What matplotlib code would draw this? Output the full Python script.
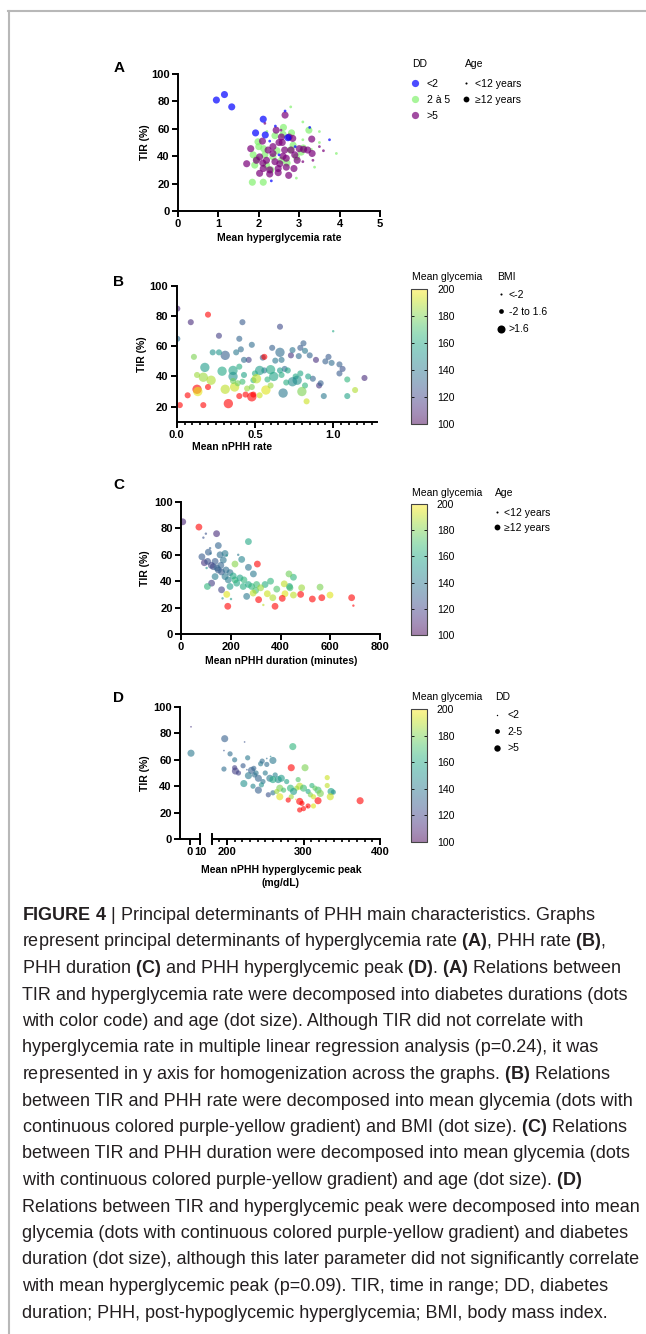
import numpy as np
import matplotlib
matplotlib.use('Agg')
import matplotlib.pyplot as plt
from matplotlib import cm
from matplotlib.colors import ListedColormap, Normalize
from matplotlib.lines import Line2D
from matplotlib.ticker import MultipleLocator

plt.rcParams['font.family'] = ['Liberation Sans', 'DejaVu Sans']

# ---------------- data ----------------
# A: mean hyperglycemia rate vs TIR; DD: 0 <2, 1 2-5, 2 >5 ; age: 0 <12 y, 1 >=12 y
a_rate = [1.84, 2.11, 2.61, 3.24, 2.81, 1.86, 1.98, 2.12, 2.35, 2.56,
          1.9, 2.19, 2.93, 3.05, 2.78, 2.45, 2.0, 2.6, 2.3, 2.7,
          1.95, 2.85, 2.4, 3.1, 2.15,
          2.79, 3.09, 3.5, 3.5, 3.38, 3.92, 2.93, 3.09, 3.3, 2.2,
          2.65, 2.43, 1.8, 1.7, 2.09, 2.58, 2.84, 2.8, 3.31, 3.11,
          3.21, 3.32, 2.02, 2.19, 2.35, 2.52, 2.68, 2.89, 2.11, 2.27,
          2.48, 2.68, 2.87, 2.02, 2.27, 2.48, 2.74, 2.64, 2.23, 1.94,
          2.56, 2.75, 2.4, 2.1, 2.6, 2.95, 2.5, 3.0, 2.35,
          2.55, 3.5, 3.34, 3.09, 2.15, 3.6,
          0.95, 1.15, 1.33, 2.11, 1.92, 2.16, 2.72,
          2.65, 2.41, 3.26, 3.75, 2.31, 2.27, 2.9, 2.5]
a_tir = [21, 21, 61, 59, 57, 41, 50.5, 45.5, 39.5, 37,
         33.5, 33.5, 39.5, 43, 44.5, 44, 47, 56, 30, 35,
         38, 48, 55, 46, 41,
         76, 65, 58, 50, 32, 42, 24, 52, 45, 58,
         70, 59, 45.5, 34.5, 51, 50, 53, 44.5, 52.5, 45,
         44.5, 42, 39.5, 37, 42, 34.5, 38.5, 41, 31, 30,
         31, 32, 31, 27.5, 27, 28, 26, 44.5, 44.5, 37,
         54, 54, 36, 35, 40, 37, 50, 45.5, 47,
         59, 47, 37, 36, 64, 44,
         81, 85, 76, 67, 57, 55.5, 53.5,
         73, 62, 61, 52, 22, 51, 47, 41]
a_dd = [1, 1, 1, 1, 1, 1, 1, 1, 1, 1, 1, 1, 1, 1, 1, 1, 1, 1, 1, 1, 1, 1, 1, 1, 1,
        1, 1, 1, 1, 1, 1, 1, 1, 1, 1,
        2, 2, 2, 2, 2, 2, 2, 2, 2, 2, 2, 2, 2, 2, 2, 2, 2, 2, 2, 2,
        2, 2, 2, 2, 2, 2, 2, 2, 2, 2, 2, 2, 2, 2, 2, 2, 2, 2, 2,
        2, 2, 2, 2, 2, 2,
        0, 0, 0, 0, 0, 0, 0,
        0, 0, 0, 0, 0, 0, 0, 0]
a_age = [1, 1, 1, 1, 1, 1, 1, 1, 1, 1, 1, 1, 1, 1, 1, 1, 1, 1, 1, 1, 1, 1, 1, 1, 1,
         0, 0, 0, 0, 0, 0, 0, 0, 0, 0,
         1, 1, 1, 1, 1, 1, 1, 1, 1, 1, 1, 1, 1, 1, 1, 1, 1, 1, 1, 1,
         1, 1, 1, 1, 1, 1, 1, 1, 1, 1, 1, 1, 1, 1, 1, 1, 1, 1, 1,
         0, 0, 0, 0, 0, 0,
         1, 1, 1, 1, 1, 1, 1,
         0, 0, 0, 0, 0, 0, 0, 0]
dd_labels = ['<2', '2 à 5', '>5']
age_labels = ['<12 years', '\u226512 years']

# B: mean nPHH rate vs TIR; glycemia (mg/dL, >200 out of range); BMI: 0 <-2, 1 -2 to 1.6, 2 >1.6
b_rate = [0.004, 0.09, 0.27, 0.73, 0.89, 0.91, 1.2, 0.46,
          0.42, 0.66, 0.004, 0.31, 0.40, 0.48, 0.61, 0.66, 0.79, 0.81,
          0.78, 0.85, 0.95, 0.97, 1.04, 1.06, 1.04, 0.92, 0.87, 0.94,
          0.68, 0.43, 0.55, 0.63, 0.67, 0.69, 0.74, 0.56, 0.41, 0.82, 0.38, 0.99,
          0.18, 0.23, 0.27, 0.29, 0.36, 0.36, 0.40, 0.43, 0.49, 0.53,
          0.60, 0.66, 0.71, 0.76, 0.77, 0.74, 0.62, 0.67, 0.84, 0.79,
          1.09, 1.09, 0.82, 0.42, 0.58, 0.70, 0.50,
          0.11, 0.13, 0.17, 0.22, 0.31, 0.37, 0.39, 0.45, 0.51, 0.57,
          0.53, 0.80, 0.83, 1.14, 0.48, 0.60, 0.36,
          0.20, 0.02, 0.07, 0.13, 0.20, 0.17, 0.33, 0.40, 0.44, 0.48,
          0.49, 0.56, 0.135,
          1.0]
b_tir = [85, 76, 67, 54, 51, 34, 39, 51,
         76, 73, 65, 54, 65, 61, 59, 56, 59, 62,
         53.5, 54, 50, 53, 48, 45, 42, 35.5, 38.5, 27,
         29, 51, 52.5, 50.5, 51, 45, 57.5, 44, 58, 57, 56, 49,
         46, 56, 56, 43.5, 44, 40, 46.5, 41, 37.5, 44,
         44.5, 44, 44, 40, 37.5, 36.5, 40, 41, 40, 42,
         38, 27, 34, 36.5, 38, 36, 42,
         53, 41, 39.5, 37.5, 31.5, 33, 35.5, 32, 38.5, 31,
         27.5, 30, 23.5, 31, 33, 34, 37,
         81, 21, 27.5, 31.5, 33, 21, 22, 27, 28, 26.5,
         28, 53, 30,
         70]
b_glyc = [110, 112, 118, 115, 113, 115, 112, 118,
          128, 122, 135, 130, 132, 135, 130, 135, 128, 130,
          135, 132, 130, 128, 130, 125, 128, 130, 132, 140,
          140, 135, 130, 140, 138, 135, 138, 140, 135, 140, 140, 135,
          155, 150, 152, 160, 158, 150, 162, 158, 165, 155,
          160, 155, 158, 160, 150, 148, 158, 162, 158, 160,
          165, 158, 165, 168, 165, 162, 162,
          180, 185, 185, 188, 190, 192, 178, 185, 190, 195,
          192, 180, 192, 188, 180, 185, 178,
          210, 210, 210, 210, 210, 210, 210, 210, 210, 210,
          210, 210, 196,
          160]
b_bmi = [1, 1, 1, 1, 1, 1, 1, 1,
         1, 1, 1, 2, 1, 1, 1, 2, 1, 1,
         1, 1, 1, 1, 1, 1, 1, 1, 1, 1,
         2, 1, 1, 1, 1, 1, 1, 1, 1, 1, 1, 1,
         2, 1, 1, 2, 2, 2, 1, 1, 1, 2,
         2, 1, 1, 1, 2, 2, 2, 1, 1, 1,
         1, 1, 1, 1, 1, 1, 1,
         1, 1, 2, 2, 2, 2, 1, 1, 2, 2,
         1, 2, 1, 1, 1, 1, 1,
         1, 1, 1, 2, 1, 1, 2, 1, 1, 2,
         1, 1, 2,
         0]
bmi_labels = ['<-2', '-2 to 1.6', '>1.6']

# C: mean nPHH duration (min) vs TIR; glycemia; age
c_dur = [7, 143, 94, 123, 163,
         84, 150, 110, 130, 137, 157, 177, 170, 150, 163,
         181, 197, 177, 137, 291, 271, 264, 244, 107, 122,
         145, 160, 190,
         100, 90, 117, 119, 103, 167, 201, 331, 693, 184, 230,
         271, 106, 197, 224, 217, 237, 253, 271, 284, 304,
         338, 360, 385, 436, 452, 438, 434, 210, 250, 300,
         184, 217, 347, 369, 415, 418, 452, 485, 559, 599, 320, 290,
         72, 307, 312, 188, 378, 407, 481, 528, 566, 686]
c_tir = [85, 76, 54, 38.5, 33.5,
         58.5, 67, 62, 51, 55, 60, 61, 56, 48.5, 47,
         48.5, 46.5, 43.5, 43.5, 45.5, 50.5, 28.5, 56.5, 55, 52,
         50, 52, 41,
         76, 73, 65, 61, 50, 27, 26.5, 22, 21.5, 59.5, 60,
         70, 36, 36, 38.5, 41, 42.5, 41, 37.5, 36, 37.5,
         37.5, 40, 34, 36, 43, 35, 45.5, 44, 36, 33,
         30, 53, 30.5, 27.5, 38, 30.5, 29.5, 35, 35.5, 29.5, 35, 31,
         81, 53, 26, 21, 21, 27, 30, 26.5, 27.5, 27.5]
c_glyc = [110, 112, 115, 118, 120,
          128, 132, 130, 125, 128, 135, 140, 138, 130, 128,
          135, 138, 140, 142, 140, 138, 140, 145, 125, 120,
          130, 132, 142,
          125, 125, 130, 135, 150, 150, 155, 190, 210, 150, 140,
          160, 165, 155, 160, 165, 158, 165, 160, 165, 168,
          162, 165, 172, 158, 165, 170, 178, 160, 162, 170,
          195, 182, 192, 188, 190, 195, 190, 185, 180, 195, 185, 190,
          210, 210, 210, 210, 210, 210, 210, 210, 210, 210]
c_age = [1, 1, 1, 1, 1,
         1, 1, 1, 1, 1, 1, 1, 1, 1, 1,
         1, 1, 1, 1, 1, 1, 1, 1, 1, 1,
         1, 1, 1,
         0, 0, 0, 0, 0, 0, 0, 0, 0, 0, 0,
         1, 1, 1, 1, 1, 1, 1, 1, 1, 1,
         1, 1, 1, 1, 1, 1, 1, 1, 1, 1,
         1, 1, 1, 1, 1, 1, 1, 1, 1, 1, 1, 1,
         1, 1, 1, 1, 1, 1, 1, 1, 1, 1]

# D: mean nPHH hyperglycemic peak (mg/dL) vs TIR; glycemia; DD
d_peak = [1, 1,
          197, 196, 204, 210, 210, 211, 227, 221, 222, 232,
          235, 236, 241, 234, 241, 247, 244, 252, 260, 257,
          254, 245, 256, 263, 267, 271, 278, 260, 269, 274,
          283, 286, 284, 302, 293, 295, 300, 291, 287, 284,
          280, 269, 306, 309, 313, 311, 319, 315, 322, 331,
          336, 339, 331, 335, 295, 298, 295, 300, 319, 374,
          313, 260, 246, 306, 228, 238, 250, 265, 215,
          196, 223, 252, 226, 290, 305]
d_tir = [65, 85,
         76, 53, 64.5, 60, 54, 51.5, 61.5, 55.5, 42, 52,
         53.5, 48.5, 46, 40, 37, 43.5, 57, 56.5, 59.5, 62.5,
         33.5, 41, 46, 48.5, 45, 46, 43.5, 45, 38.5, 37,
         38.5, 70, 54, 54, 45, 40, 38.5, 38.5, 36, 32,
         29.5, 32, 36, 33.5, 32, 40.5, 37, 38.5, 34.5, 40.5,
         36, 35.5, 46.5, 32, 28.5, 27, 22, 23, 29, 29,
         25, 35, 59, 25, 48, 50, 50, 36, 50,
         67, 73.5, 61, 52.5, 30, 24.5]
d_glyc = [140, 115,
          130, 135, 135, 138, 118, 118, 140, 128, 150, 130,
          132, 135, 132, 145, 130, 138, 140, 135, 140, 145,
          125, 150, 140, 145, 150, 155, 158, 160, 180, 170,
          165, 165, 210, 180, 172, 190, 168, 185, 155, 185,
          210, 195, 160, 180, 192, 165, 170, 175, 180, 190,
          158, 150, 192, 192, 210, 210, 210, 210, 210, 210,
          195, 138, 135, 210, 140, 138, 140, 185, 120,
          125, 125, 135, 130, 200, 210]
d_dd = [2, 0,
        2, 1, 1, 1, 1, 2, 1, 1, 2, 2,
        1, 1, 2, 1, 2, 1, 1, 1, 2, 0,
        1, 1, 2, 1, 2, 2, 1, 2, 2, 1,
        2, 2, 2, 2, 1, 2, 2, 1, 2, 1,
        1, 2, 1, 1, 1, 1, 2, 1, 2, 1,
        2, 1, 1, 2, 2, 1, 1, 1, 2, 2,
        1, 1, 1, 1, 2, 1, 1, 1, 1,
        0, 0, 0, 0, 0, 0]
dd_labels_d = ['<2', '2-5', '>5']

glyc_ticks = [100, 120, 140, 160, 180, 200]

caption = [
    r'$\mathbf{FIGURE\ 4}$ | Principal determinants of PHH main characteristics. Graphs',
    r'represent principal determinants of hyperglycemia rate $\mathbf{(A)}$, PHH rate $\mathbf{(B)}$,',
    r'PHH duration $\mathbf{(C)}$ and PHH hyperglycemic peak $\mathbf{(D)}$. $\mathbf{(A)}$ Relations between',
    'TIR and hyperglycemia rate were decomposed into diabetes durations (dots',
    'with color code) and age (dot size). Although TIR did not correlate with',
    'hyperglycemia rate in multiple linear regression analysis (p=0.24), it was',
    r'represented in y axis for homogenization across the graphs. $\mathbf{(B)}$ Relations',
    'between TIR and PHH rate were decomposed into mean glycemia (dots with',
    r'continuous colored purple-yellow gradient) and BMI (dot size). $\mathbf{(C)}$ Relations',
    'between TIR and PHH duration were decomposed into mean glycemia (dots',
    r'with continuous colored purple-yellow gradient) and age (dot size). $\mathbf{(D)}$',
    'Relations between TIR and hyperglycemic peak were decomposed into mean',
    'glycemia (dots with continuous colored purple-yellow gradient) and diabetes',
    'duration (dot size), although this later parameter did not significantly correlate',
    'with mean hyperglycemic peak (p=0.09). TIR, time in range; DD, diabetes',
    'duration; PHH, post-hypoglycemic hyperglycemia; BMI, body mass index.',
]

# ---------------- style ----------------
cap_font, cap_size = 'Liberation Sans', 13
plt.rcParams['mathtext.fontset'] = 'custom'
plt.rcParams['mathtext.rm'] = cap_font
plt.rcParams['mathtext.bf'] = cap_font + ':bold'
LEG_FS = 7.5

W, H = 646, 1334
fig = plt.figure(figsize=(W / 100, H / 100), dpi=100)

dd_colors = ['#0000ff', '#83f16f', '#7a007a']
vir = plt.get_cmap('viridis').copy()
vir.set_over('#ff0000')
soft = vir(np.linspace(0, 1, 256))
soft[:, :3] = soft[:, :3] * 0.5 + 0.5
soft_cmap = ListedColormap(soft)
norm = Normalize(100, 200)


def add_ax(l, t, r, b):
    return fig.add_axes([l / W, 1 - b / H, (r - l) / W, (b - t) / H])


def style(ax, left=True):
    ax.spines['top'].set_visible(False)
    ax.spines['right'].set_visible(False)
    ax.spines['left'].set_visible(left)
    for s in ['left', 'bottom']:
        ax.spines[s].set_linewidth(1.4)
    ax.tick_params(which='major', length=4, width=1.4, labelsize=8, pad=2)
    ax.tick_params(which='minor', length=2.5, width=1.2)
    if not left:
        ax.set_yticks([])
    ax.patch.set_alpha(0)


def bold_ticks(ax):
    for lab in ax.get_xticklabels() + ax.get_yticklabels():
        lab.set_fontweight('bold')


def labels(ax, box, xl, xl_px, yl_px):
    l, t, r, b = box
    if xl is not None:
        ax.set_xlabel(xl, fontsize=7.5, fontweight='bold', linespacing=1.3)
        ax.xaxis.set_label_coords((xl_px[0] - l) / (r - l), -(xl_px[1] - b) / (b - t))
    ax.set_ylabel('TIR (%)', fontsize=7.5, fontweight='bold')
    ax.yaxis.set_label_coords((yl_px - l) / (r - l), 0.5)


def letter(s, x, y):
    fig.text(x / W, 1 - y / H, s, fontsize=11, fontweight='bold', ha='center', va='center')


def legend(title, title_xy, labs, handles, left, top, hl, htp, ls):
    fig.text(title_xy[0] / W, 1 - title_xy[1] / H, title, fontsize=LEG_FS, va='center')
    fig.legend(handles, labs, loc='upper left',
               bbox_to_anchor=(left / W, 1 - top / H), frameon=False,
               fontsize=LEG_FS, handlelength=hl, handletextpad=htp, labelspacing=ls,
               borderpad=0, borderaxespad=0)


def dots(sizes, colors=None, alpha=1.0):
    if colors is None:
        colors = ['black'] * len(sizes)
    return [Line2D([], [], ls='none', marker='o', ms=m, mfc=c, mec='none', alpha=alpha)
            for m, c in zip(sizes, colors)]


def colorbar(box, title_y):
    cax = add_ax(*box)
    cb = fig.colorbar(cm.ScalarMappable(norm=norm, cmap=soft_cmap), cax=cax, ticks=glyc_ticks)
    cb.outline.set_linewidth(0.8)
    cb.outline.set_edgecolor('#444444')
    cax.tick_params(labelsize=7.5, length=2, width=0.6, direction='in', pad=7.5,
                    left=True, right=True)
    fig.text(412 / W, 1 - title_y / H, 'Mean glycemia', fontsize=LEG_FS, va='center')


# ---------------- panel A ----------------
boxA = (178, 74, 380, 211)
axA = add_ax(*boxA)
style(axA)
axA.scatter(a_rate, a_tir, s=np.array([4, 26])[a_age],
            c=[dd_colors[k] for k in a_dd], alpha=0.7, linewidths=0)
axA.set_xlim(0, 5)
axA.set_ylim(0, 100)
axA.set_xticks([0, 1, 2, 3, 4, 5])
axA.set_yticks([0, 20, 40, 60, 80, 100])
bold_ticks(axA)
labels(axA, boxA, 'Mean hyperglycemia rate', (279, 233), 150)
letter('A', 119, 67.5)
legend('DD', (412, 64), dd_labels, dots([5.2, 5.2, 5.2], dd_colors, 0.7),
       410.3, 79, 0.9, 0.7, 0.58)
legend('Age', (465, 64), age_labels, dots([1.5, 4.2]), 462.9, 79, 0.6, 0.57, 0.58)

# ---------------- panel B ----------------
boxB = (176.7, 286, 377, 421.7)
axB = add_ax(*boxB)
style(axB)
axB.scatter(b_rate, b_tir, s=np.array([3, 19, 45])[b_bmi], c=b_glyc, cmap=vir, norm=norm,
            alpha=0.6, linewidths=0)
axB.set_xlim(0, 1.28)
axB.set_ylim(10, 100)
axB.set_xticks([0, 0.5, 1.0])
axB.set_xticklabels(['0.0', '0.5', '1.0'])
axB.xaxis.set_minor_locator(MultipleLocator(0.05))
axB.set_yticks([20, 40, 60, 80, 100])
bold_ticks(axB)
labels(axB, boxB, 'Mean nPHH rate', (232, 442), 147)
letter('B', 119, 282)
colorbar((410.7, 289, 426.7, 424), 277)
legend('BMI', (497, 277), bmi_labels, dots([1.5, 3.4, 5.8]), 496.8, 290, 0.8, 0.37, 0.68)

# ---------------- panel C ----------------
boxC = (181, 502, 380, 634)
axC = add_ax(*boxC)
style(axC)
axC.scatter(c_dur, c_tir, s=np.array([3, 24])[c_age], c=c_glyc, cmap=vir, norm=norm,
            alpha=0.6, linewidths=0)
axC.set_xlim(0, 800)
axC.set_ylim(0, 100)
axC.set_xticks([0, 200, 400, 600, 800])
axC.set_yticks([0, 20, 40, 60, 80, 100])
bold_ticks(axC)
labels(axC, boxC, 'Mean nPHH duration (minutes)', (281, 656), 150)
letter('C', 119, 485)
colorbar((410.7, 504, 426.5, 635), 493)
legend('Age', (495, 493), age_labels, dots([1.5, 4.2]), 494.3, 507.5, 0.6, 0.34, 0.5)

# ---------------- panel D (broken x axis) ----------------
boxD1 = (180, 707, 200, 839)
boxD2 = (211.7, 707, 380, 839)
axD1 = add_ax(*boxD1)
axD2 = add_ax(*boxD2)
style(axD1)
style(axD2, left=False)
for ax in (axD1, axD2):
    ax.scatter(d_peak, d_tir, s=np.array([1.5, 14, 26])[d_dd], c=d_glyc, cmap=vir, norm=norm,
               alpha=0.6, linewidths=0)
    ax.set_ylim(0, 100)
axD1.set_xlim(-10, 10)
axD1.set_xticks([0, 10])
axD1.set_yticks([0, 20, 40, 60, 80, 100])
axD2.set_xlim(180, 400)
axD2.set_xticks([200, 300, 400])
axD2.xaxis.set_minor_locator(MultipleLocator(10))
bold_ticks(axD1)
bold_ticks(axD2)
labels(axD1, boxD1, None, None, 150)
axD2.set_xlabel('Mean nPHH hyperglycemic peak\n(mg/dL)', fontsize=7.5, fontweight='bold',
                linespacing=1.35)
axD2.xaxis.set_label_coords((281 - boxD2[0]) / (boxD2[2] - boxD2[0]),
                            -(865 - boxD2[3]) / (boxD2[3] - boxD2[1]))
axD1.plot([10, 10], [-0.035, 0.035], color='black', lw=1.4, clip_on=False,
          transform=axD1.get_xaxis_transform())
axD2.plot([180, 180], [-0.035, 0.035], color='black', lw=1.4, clip_on=False,
          transform=axD2.get_xaxis_transform())
letter('D', 119, 698.5)
colorbar((410.7, 709, 426.5, 842), 697)
legend('DD', (495, 697), dd_labels_d, dots([1.0, 3.5, 4.6]), 494.3, 710.5, 0.6, 0.62, 0.62)

# ---------------- frame + caption ----------------
fig.add_artist(Line2D([8 / W, 1], [1 - 10.5 / H, 1 - 10.5 / H], transform=fig.transFigure,
                      color='#b8b8b8', lw=1.5))
fig.add_artist(Line2D([8.5 / W, 8.5 / W], [0, 1 - 10.5 / H], transform=fig.transFigure,
                      color='#b8b8b8', lw=1.5))
for i, line in enumerate(caption):
    fig.text(22 / W, 1 - (920 + 26.5 * i) / H, line, fontsize=cap_size, family=cap_font,
             color='#231f20', va='baseline', ha='left')

fig.savefig('out.png', dpi=100)
